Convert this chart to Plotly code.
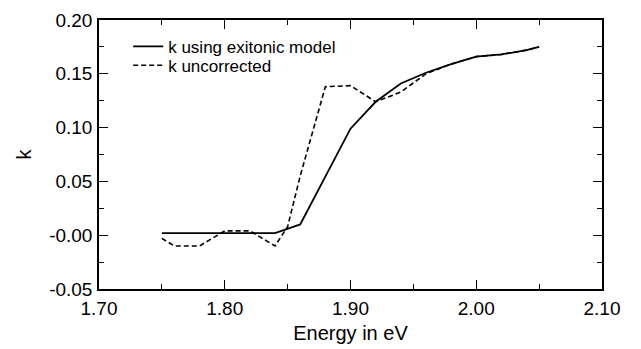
import plotly.graph_objects as go

# Data
energy_model = [1.75, 1.76, 1.78, 1.80, 1.82, 1.84, 1.86, 1.88, 1.90, 1.92, 1.94, 1.96, 1.98, 2.00, 2.02, 2.04, 2.05]
k_model = [0.002, 0.002, 0.002, 0.002, 0.002, 0.002, 0.010, 0.055, 0.099, 0.124, 0.141, 0.151, 0.159, 0.166, 0.168, 0.172, 0.175]

energy_raw = [1.75, 1.76, 1.78, 1.80, 1.82, 1.84, 1.85, 1.86, 1.88, 1.90, 1.92, 1.94, 1.96, 1.98, 2.00, 2.02, 2.04, 2.05]
k_raw = [-0.003, -0.010, -0.010, 0.004, 0.004, -0.010, 0.008, 0.055, 0.138, 0.139, 0.124, 0.133, 0.150, 0.159, 0.166, 0.168, 0.172, 0.175]

y_tickvals = [-0.05, 0.0, 0.05, 0.10, 0.15, 0.20]
y_ticktext = ["-0.05", "-0.00", "0.05", "0.10", "0.15", "0.20"]
x_tickvals = [1.70, 1.80, 1.90, 2.00, 2.10]
x_ticktext = ["1.70", "1.80", "1.90", "2.00", "2.10"]

FONT = "Liberation Sans, Arial, sans-serif"

fig = go.Figure()
fig.add_trace(go.Scatter(x=energy_model, y=k_model, mode="lines",
                         name="k using exitonic model", legend="legend",
                         line=dict(color="black", width=1.8)))
fig.add_trace(go.Scatter(x=energy_raw, y=k_raw, mode="lines",
                         name="k uncorrected", legend="legend2",
                         line=dict(color="black", width=1.6, dash="5px,3px")))

axis_common = dict(showline=True, linecolor="black", linewidth=1.5, mirror="ticks",
                   ticks="inside", ticklen=9, tickwidth=1.2, tickcolor="black",
                   showgrid=False, zeroline=False, automargin=False,
                   tickfont=dict(family=FONT, size=19, color="black"))

fig.update_xaxes(range=[1.70, 2.10], tickvals=x_tickvals, ticktext=x_ticktext,
                 minor=dict(ticks="inside", ticklen=5, tickwidth=1.2, tickcolor="black",
                            tickvals=[1.75, 1.85, 1.95, 2.05]),
                 title=dict(text="Energy in eV", font=dict(family=FONT, size=20, color="black"), standoff=8),
                 ticklabelstandoff=1,
                 **axis_common)
fig.update_yaxes(range=[-0.05, 0.20], tickvals=y_tickvals, ticktext=y_ticktext,
                 minor=dict(ticks="inside", ticklen=5, tickwidth=1.2, tickcolor="black",
                            tickvals=[-0.025, 0.025, 0.075, 0.125, 0.175]),
                 title=dict(text="k", font=dict(family=FONT, size=20, color="black"), standoff=12),
                 ticklabelstandoff=1,
                 **axis_common)

legend_common = dict(xanchor="left", yanchor="middle", bgcolor="rgba(0,0,0,0)", borderwidth=0,
                     font=dict(family=FONT, size=17, color="black"), itemwidth=30)

# The page body adds an 8px offset, so the figure is sized to fit the window.
fig.update_layout(
    width=633, height=341,
    margin=dict(l=91, r=39, t=12, b=60, autoexpand=False),
    paper_bgcolor="white", plot_bgcolor="white",
    showlegend=True,
    legend=dict(x=0.058, y=0.90, **legend_common),
    legend2=dict(x=0.058, y=0.83, **legend_common),
)

fig.write_html("out.html")
